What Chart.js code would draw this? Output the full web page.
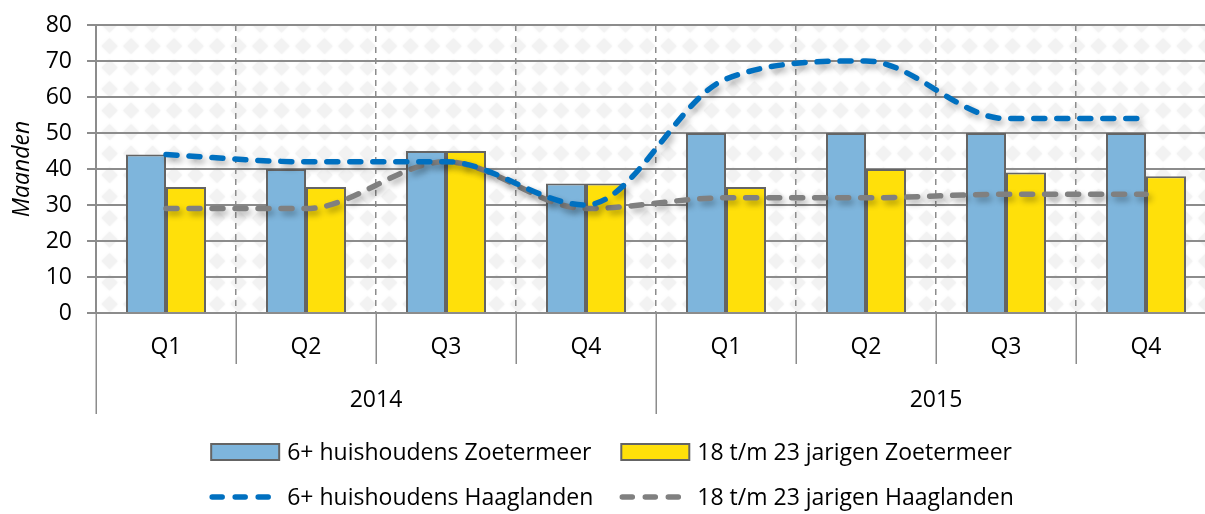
<!DOCTYPE html>
<html>
<head>
<meta charset="utf-8">
<script src="https://cdn.jsdelivr.net/npm/chart.js@4.4.1/dist/chart.umd.min.js"></script>
<style>
  html, body { margin: 0; padding: 0; background: #fff; overflow: hidden; }
  #wrap { width: 1225px; height: 514px; }
</style>
</head>
<body>
<div id="wrap"><canvas id="chart" width="1225" height="514"></canvas></div>
<script>
// Data
const quarters = ["Q1", "Q2", "Q3", "Q4", "Q1", "Q2", "Q3", "Q4"]
const years = ["2014", "2015"]
const zoetermeer6 = [44, 40, 45, 36, 50, 50, 50, 50]
const zoetermeer18 = [35, 35, 45, 36, 35, 40, 39, 38]
const haaglanden6 = [44, 42, 42, 30, 65, 70, 54, 54]
const haaglanden18 = [29, 29, 42, 29, 32, 32, 33, 33]
const yTicks = [0, 10, 20, 30, 40, 50, 60, 70, 80]

const FONT = "'Open Sans', 'DejaVu Sans', sans-serif"
const FONT_SIZE = 23
const GRID = "#8c8c8c"
const DASH = [11, 12]

// diamond pattern for plot background
function makePattern(ctx) {
  const s = 21.5
  const tile = document.createElement("canvas")
  tile.width = 43
  tile.height = 43
  const t = tile.getContext("2d")
  t.fillStyle = "#ffffff"
  t.fillRect(0, 0, 43, 43)
  t.fillStyle = "#f2f2f2"
  t.shadowColor = "#f2f2f2"
  t.shadowBlur = 2
  for (let i = 0; i < 3; i++) {
    for (let j = 0; j < 3; j++) {
      const cx = s / 2 + i * s
      const cy = s / 2 + j * s
      const r = 8
      t.beginPath()
      t.moveTo(cx, cy - r)
      t.lineTo(cx + r, cy)
      t.lineTo(cx, cy + r)
      t.lineTo(cx - r, cy)
      t.closePath()
      t.fill()
    }
  }
  const p = ctx.createPattern(tile, "repeat")
  if (p.setTransform) p.setTransform(new DOMMatrix([1, 0, 0, 1, 12.75, 13.75]))
  return p
}

const plotBackground = {
  id: "plotBackground",
  beforeDraw(chart) {
    const { ctx, chartArea } = chart
    ctx.save()
    ctx.fillStyle = makePattern(ctx)
    ctx.fillRect(chartArea.left, chartArea.top, chartArea.right - chartArea.left, chartArea.bottom - chartArea.top)
    ctx.restore()
  },
}

// shadow under the dashed lines
const lineShadow = {
  id: "lineShadow",
  beforeDatasetDraw(chart, args) {
    if (args.meta.type !== "line") return
    const ctx = chart.ctx
    ctx.save()
    ctx.shadowColor = "rgba(0,0,0,0.32)"
    ctx.shadowBlur = 6
    ctx.shadowOffsetX = 3
    ctx.shadowOffsetY = 4
  },
  afterDatasetDraw(chart, args) {
    if (args.meta.type !== "line") return
    chart.ctx.restore()
  },
}

// category / year separators under the axis
const axisDividers = {
  id: "axisDividers",
  afterDraw(chart) {
    const x = chart.scales.x
    const ctx = chart.ctx
    const bottom = chart.chartArea.bottom
    const step = x.getPixelForValue(1) - x.getPixelForValue(0)
    const start = x.getPixelForValue(0) - step / 2
    ctx.save()
    ctx.strokeStyle = GRID
    ctx.lineWidth = 1.5
    for (let i = 0; i <= quarters.length; i++) {
      const px = Math.round(start + i * step) + 0.25
      const len = i % 4 === 0 ? 101 : 51
      ctx.beginPath()
      ctx.moveTo(px, bottom)
      ctx.lineTo(px, bottom + len)
      ctx.stroke()
    }
    ctx.restore()
  },
}

// two-row legend at the bottom
const bottomLegend = {
  id: "bottomLegend",
  afterDraw(chart) {
    const ctx = chart.ctx
    const ds = chart.data.datasets
    const rows = [[ds[0], ds[1]], [ds[2], ds[3]]]
    const rowY = [452, 497]
    const swatchW = 68
    const textGap = 8
    const colGap = 28
    ctx.save()
    ctx.font = FONT_SIZE + "px " + FONT
    ctx.textBaseline = "middle"
    const colW = [0, 1].map((c) => Math.max(...rows.map((r) => swatchW + textGap + ctx.measureText(r[c].label).width)))
    const total = colW[0] + colGap + colW[1]
    const left = chart.width / 2 - total / 2
    rows.forEach((row, r) => {
      const y = rowY[r]
      row.forEach((d, c) => {
        const x = left + (c === 0 ? 0 : colW[0] + colGap)
        if (d.type === "line") {
          ctx.save()
          ctx.strokeStyle = d.borderColor
          ctx.lineWidth = d.borderWidth
          ctx.lineCap = "round"
          ctx.setLineDash([10, 13])
          ctx.beginPath()
          ctx.moveTo(x + 1, y)
          ctx.lineTo(x + 1 + 56, y)
          ctx.stroke()
          ctx.restore()
        } else {
          ctx.fillStyle = d.backgroundColor
          ctx.fillRect(x, y - 8, swatchW, 16)
          ctx.strokeStyle = d.borderColor
          ctx.lineWidth = 2
          ctx.strokeRect(x, y - 8, swatchW, 16)
        }
        ctx.fillStyle = "#000"
        ctx.fillText(d.label, x + swatchW + textGap, y + 1)
      })
    })
    ctx.restore()
  },
}

const ctx = document.getElementById("chart")
new Chart(ctx, {
  data: {
    labels: quarters,
    datasets: [
      {
        type: "bar",
        label: "6+ huishoudens Zoetermeer",
        data: zoetermeer6,
        backgroundColor: "#7eb5dc",
        borderColor: "#646464",
        borderWidth: 2,
        borderSkipped: "bottom",
        categoryPercentage: 80 / 140,
        barPercentage: 1.0,
        order: 2,
      },
      {
        type: "bar",
        label: "18 t/m 23 jarigen Zoetermeer",
        data: zoetermeer18,
        backgroundColor: "#ffe00a",
        borderColor: "#646464",
        borderWidth: 2,
        borderSkipped: "bottom",
        categoryPercentage: 80 / 140,
        barPercentage: 1.0,
        order: 2,
      },
      {
        type: "line",
        label: "6+ huishoudens Haaglanden",
        data: haaglanden6,
        borderColor: "#0070c0",
        backgroundColor: "#0070c0",
        borderWidth: 5.5,
        borderDash: DASH,
        borderCapStyle: "round",
        cubicInterpolationMode: "monotone",
        pointRadius: 0,
        fill: false,
        order: 0,
      },
      {
        type: "line",
        label: "18 t/m 23 jarigen Haaglanden",
        data: haaglanden18,
        borderColor: "#808080",
        backgroundColor: "#808080",
        borderWidth: 5.5,
        borderDash: DASH,
        borderCapStyle: "round",
        cubicInterpolationMode: "monotone",
        pointRadius: 0,
        fill: false,
        order: 1,
      },
    ],
  },
  options: {
    responsive: false,
    animation: false,
    layout: { padding: { top: 25, right: 9, bottom: 100, left: 0 } },
    plugins: {
      legend: { display: false },
      tooltip: { enabled: false },
    },
    scales: {
      x: {
        type: "category",
        position: "bottom",
        offset: true,
        grid: {
          offset: true,
          color: GRID,
          lineWidth: 1.5,
          drawTicks: false,
        },
        border: { display: true, color: GRID, width: 2, dash: [6, 5] },
        ticks: { padding: 21, color: "#000", font: { family: FONT, size: FONT_SIZE } },
        afterFit(scale) { scale.height = 47 },
      },
      x2: {
        type: "category",
        position: "bottom",
        labels: years,
        offset: true,
        grid: { display: false, drawTicks: false },
        border: { display: false },
        ticks: { padding: 27, color: "#000", font: { family: FONT, size: FONT_SIZE } },
        afterFit(scale) { scale.height = 54 },
      },
      y: {
        min: 0,
        max: 80,
        afterBuildTicks(scale) { scale.ticks = yTicks.map((v) => ({ value: v })) },
        grid: { color: GRID, lineWidth: 2, tickLength: 9 },
        border: { display: true, color: GRID, width: 2 },
        ticks: { padding: 15, color: "#000", font: { family: FONT, size: FONT_SIZE } },
        title: {
          display: true,
          text: "Maanden",
          color: "#000",
          padding: { top: 9, bottom: 0 },
          font: { family: FONT, size: FONT_SIZE, style: "italic" },
        },
        afterFit(scale) {
          scale.width = 96
          scale.paddingTop = 14
          scale.paddingBottom = 14
        },
      },
    },
  },
  plugins: [plotBackground, lineShadow, axisDividers, bottomLegend],
})
</script>
</body>
</html>
